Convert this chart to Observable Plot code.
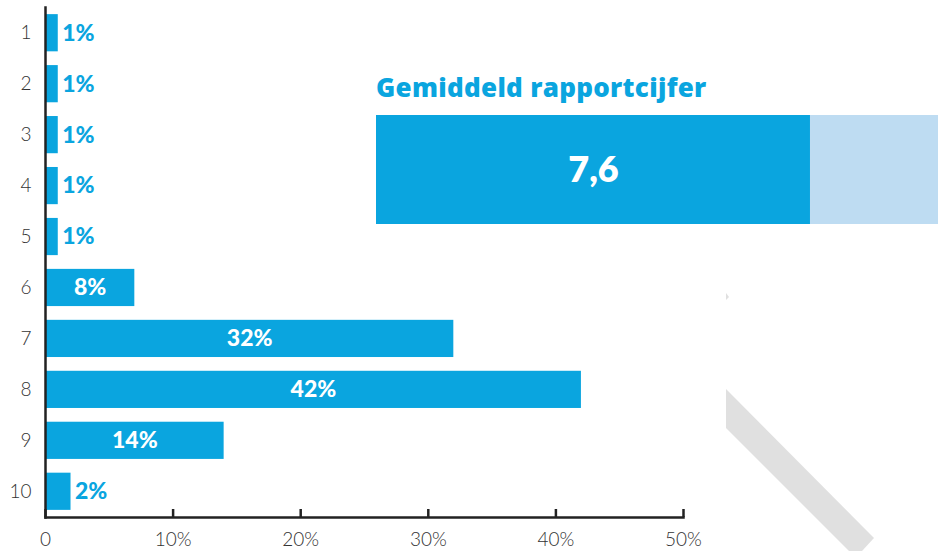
<!DOCTYPE html>
<html><head><meta charset="utf-8">
<script src="https://cdn.jsdelivr.net/npm/d3@7"></script>
<script src="https://cdn.jsdelivr.net/npm/@observablehq/plot@0.6"></script>
<style>
body{margin:0;background:#fff;width:938px;height:551px;overflow:hidden;position:relative;font-family:Lato,"Open Sans",sans-serif}
#main{position:absolute;left:0;top:0}
#inset-title{position:absolute;left:376px;top:70px;font-family:"Open Sans",Lato,sans-serif;font-weight:800;font-size:26px;line-height:34px;color:#0aa5df;white-space:nowrap;letter-spacing:0.3px}
#inset{position:absolute;left:376px;top:115px;width:562px;height:109px;overflow:hidden}
#inset svg, #main svg{max-width:none !important}
#deco{position:absolute;left:0;top:0;pointer-events:none}
</style></head>
<body>
<div id="main"></div>
<div id="inset-title"></div>
<div id="inset"></div>
<svg id="deco" width="938" height="551"><polygon points="726,389 874,538 862,551 849,551 726,428" fill="#e0e0e0"/><polygon points="726,293 729,297 726,300" fill="#e0e0e0"/></svg>
<script>
const scores = ["1","2","3","4","5","6","7","8","9","10"];
const barValues = [1,1,1,1,1,7,32,42,14,2];
const barLabels = ["1%","1%","1%","1%","1%","8%","32%","42%","14%","2%"];
const xTicks = [0,10,20,30,40,50];
const xTickLabels = ["0","10%","20%","30%","40%","50%"];
const insetTitle = "Gemiddeld rapportcijfer";
const avgScore = 7.6;
const avgLabel = "7,6";
const maxScore = 10;

const BLUE = "#0aa5df";
const LIGHT = "#bedcf2";
const FONT = "Lato, 'Open Sans', sans-serif";

const data = scores.map((s, i) => ({score: s, value: barValues[i], label: barLabels[i]}));

const main = Plot.plot({
  width: 938, height: 551,
  marginLeft: 45, marginRight: 255, marginTop: 7, marginBottom: 34,
  style: {fontFamily: FONT, fontSize: "16px", color: "#333", background: "transparent"},
  x: {domain: [0, 50], axis: null, label: null},
  y: {domain: scores, paddingInner: 0.27, paddingOuter: 0.14, round: false, axis: null, label: null},
  marks: [
    Plot.barX(data, {x: "value", y: "score", fill: BLUE}),
    Plot.text(data.filter(d => d.value < 5), {x: "value", y: "score", text: "label", textAnchor: "start", dx: 4, fill: BLUE, fontSize: 23, fontWeight: 900}),
    Plot.text(data.filter(d => d.value >= 5), {x: d => d.value / 2, y: "score", text: "label", fill: "white", fontSize: 23, fontWeight: 900}),
    Plot.axisY({tickSize: 0, tickPadding: 14, fontSize: 19, fontWeight: 300, label: null}),
    Plot.frame({anchor: "left", stroke: "#222", strokeWidth: 2.5}),
    Plot.frame({anchor: "bottom", stroke: "#222", strokeWidth: 2.5}),
    Plot.axisX({ticks: xTicks, tickSize: -8, text: null, stroke: "#222", strokeWidth: 2.5, label: null}),
    Plot.axisX({ticks: xTicks, tickSize: 0, tickPadding: 15, fontSize: 19, fontWeight: 300, label: null, tickFormat: d => xTickLabels[xTicks.indexOf(d)]})
  ]
});
document.getElementById("main").appendChild(main);

document.getElementById("inset-title").textContent = insetTitle;

const inset = Plot.plot({
  width: 571, height: 109,
  marginLeft: 0, marginRight: 0, marginTop: 0, marginBottom: 0,
  style: {fontFamily: FONT, background: "transparent"},
  x: {domain: [0, maxScore], axis: null},
  marks: [
    Plot.barX([maxScore], {x: d => d, fill: LIGHT}),
    Plot.barX([avgScore], {x: d => d, fill: BLUE}),
    Plot.text([avgScore], {x: d => d / 2, text: () => avgLabel, fill: "white", fontSize: 36, fontWeight: 800})
  ]
});
document.getElementById("inset").appendChild(inset);
</script>
</body></html>
